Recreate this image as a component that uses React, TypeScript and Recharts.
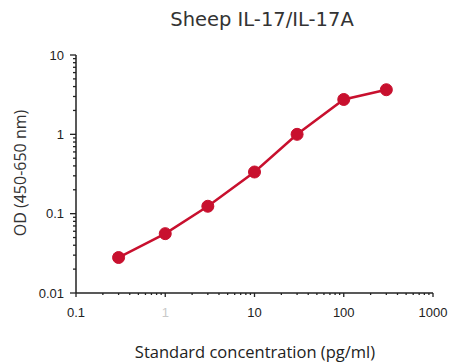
import React from 'react';
import { LineChart, Line, XAxis, YAxis } from 'recharts';

const concentrations = [0.3, 1, 3, 10, 30, 100, 300];
const odValues = [0.028, 0.056, 0.124, 0.335, 1.0, 2.75, 3.65];

const xMajor = [0.1, 1, 10, 100, 1000];
const yMajor = [0.01, 0.1, 1, 10];
const xLabels = ['0.1', '1', '10', '100', '1000'];
const yLabels = ['0.01', '0.1', '1', '10'];

// minor ticks at 2..9 of each decade
const withMinors = (majors: number[]) => {
  const out: number[] = [];
  majors.forEach((m, i) => {
    out.push(m);
    if (i < majors.length - 1) {
      for (let k = 2; k <= 9; k++) out.push(+(m * k).toPrecision(3));
    }
  });
  return out;
};

const xTicks = withMinors(xMajor);
const yTicks = withMinors(yMajor);

const data = concentrations.map((c, i) => ({ conc: c, od: odValues[i] }));

const RED = '#c8102e';
const tickFont = '"Liberation Sans", Arial, sans-serif';

function XTick({ x, y, payload }: any) {
  const idx = xMajor.indexOf(payload.value);
  const major = idx >= 0;
  return (
    <g>
      <line x1={x} x2={x} y1={y} y2={y + (major ? 4 : 2)} stroke="#222" strokeWidth={1.3} />
      {major && (
        <text
          x={x}
          y={y + 24}
          textAnchor="middle"
          fontSize={13}
          fontFamily={tickFont}
          fill={payload.value === 1 ? '#c9c9c9' : '#222'}
        >
          {xLabels[idx]}
        </text>
      )}
    </g>
  );
}

function YTick({ x, y, payload }: any) {
  const idx = yMajor.indexOf(payload.value);
  const major = idx >= 0;
  return (
    <g>
      <line x1={x} x2={x - (major ? 6 : 3)} y1={y} y2={y} stroke="#222" strokeWidth={1.3} />
      {major && (
        <text x={x - 12} y={y + 4.5} textAnchor="end" fontSize={13} fontFamily={tickFont} fill="#222">
          {yLabels[idx]}
        </text>
      )}
    </g>
  );
}

export default function App() {
  return (
    <div style={{ position: 'absolute', left: 0, top: 0, width: 449, height: 362, background: '#fff' }}>
      <div
        style={{
          position: 'absolute',
          left: 0,
          top: 8,
          width: 524,
          textAlign: 'center',
          fontFamily: '"DejaVu Sans", sans-serif',
          fontSize: 19.5,
          lineHeight: '24px',
          color: '#333',
        }}
      >
        Sheep IL-17/IL-17A
      </div>
      <LineChart width={449} height={362} data={data} margin={{ top: 55, right: 16, bottom: 39, left: 0 }}>
        <XAxis
          dataKey="conc"
          type="number"
          scale="log"
          domain={[0.1, 1000]}
          ticks={xTicks}
          interval={0}
          tick={<XTick />}
          tickLine={false}
          tickSize={0}
          tickMargin={0}
          axisLine={{ stroke: '#222', strokeWidth: 1.5 }}
          height={30}
          allowDataOverflow
        />
        <YAxis
          type="number"
          scale="log"
          domain={[0.01, 10]}
          ticks={yTicks}
          interval={0}
          tick={<YTick />}
          tickLine={false}
          tickSize={0}
          tickMargin={0}
          axisLine={{ stroke: '#222', strokeWidth: 1.5 }}
          width={76}
          allowDataOverflow
        />
        <Line
          dataKey="od"
          stroke={RED}
          strokeWidth={2.5}
          dot={{ r: 6, fill: RED, stroke: RED, strokeWidth: 1 }}
          isAnimationActive={false}
        />
      </LineChart>
      <div
        style={{
          position: 'absolute',
          left: 0,
          top: 340,
          width: 510,
          textAlign: 'center',
          fontFamily: '"Open Sans", sans-serif',
          fontSize: 16.5,
          lineHeight: '24px',
          color: '#222',
        }}
      >
        Standard concentration (pg/ml)
      </div>
      <div
        style={{
          position: 'absolute',
          left: 20,
          top: 173,
          transform: 'translate(-50%, -50%) rotate(-90deg)',
          whiteSpace: 'nowrap',
          fontFamily: '"Open Sans", sans-serif',
          fontSize: 16,
          lineHeight: '24px',
          color: '#333',
        }}
      >
        OD (450-650 nm)
      </div>
    </div>
  );
}
